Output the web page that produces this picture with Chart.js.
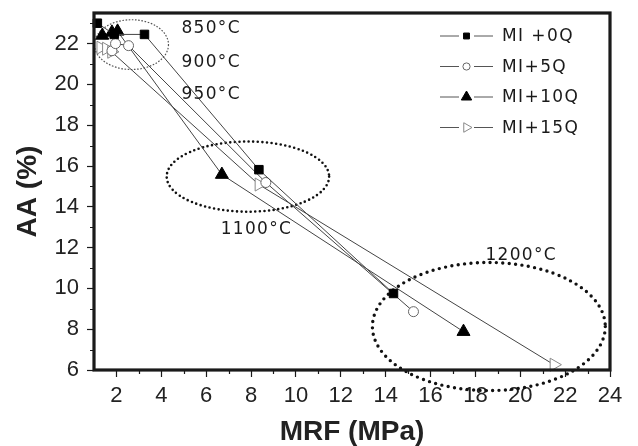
<!DOCTYPE html>
<html>
<head>
<meta charset="utf-8">
<script src="https://cdn.jsdelivr.net/npm/chart.js@4.4.0/dist/chart.umd.min.js"></script>
<style>
  html, body { margin: 0; padding: 0; background: #fff; }
  #wrap { width: 638px; height: 446px; }
</style>
</head>
<body>
<div id="wrap"><canvas id="mrf_chart"></canvas></div>
<script>
// series, points in firing order 850 / 900 / 950 / 1100 / 1200 °C
const seriesNames = ['MI +0Q', 'MI+5Q', 'MI+10Q', 'MI+15Q'];
const mrf0 = [1.15, 1.9, 3.25, 8.35, 14.35];
const aa0 = [23.0, 22.45, 22.45, 15.82, 9.75];
const mrf5 = [1.8, 1.96, 2.54, 8.66, 15.24];
const aa5 = [21.65, 22.0, 21.9, 15.19, 8.86];
const mrf10 = [1.37, 1.8, 2.05, 6.7, 17.47];
const aa10 = [22.4, 22.55, 22.6, 15.58, 7.88];
const mrf15 = [1.3, 1.55, 1.78, 8.35, 21.5];
const aa15 = [21.8, 21.75, 21.6, 15.09, 6.26];

const xTicks = [2, 4, 6, 8, 10, 12, 14, 16, 18, 20, 22, 24];
const yTicks = [6, 8, 10, 12, 14, 16, 18, 20, 22];
const tempLabels = ['850°C', '900°C', '950°C', '1100°C', '1200°C'];

const zip = (xs, ys) => xs.map((x, i) => ({ x: x, y: ys[i] }));

const markers = [
  { pointStyle: 'rect', radius: 6, fill: '#000', stroke: '#000', rotation: 0 },
  { pointStyle: 'circle', radius: 5, fill: '#fff', stroke: '#666', rotation: 0 },
  { pointStyle: 'triangle', radius: 7.5, fill: '#000', stroke: '#000', rotation: 0 },
  { pointStyle: 'triangle', radius: 7.5, fill: '#fff', stroke: '#888', rotation: 90 },
];

const seriesData = [zip(mrf0, aa0), zip(mrf5, aa5), zip(mrf10, aa10), zip(mrf15, aa15)];

const datasets = seriesNames.map((name, i) => ({
  label: name,
  data: seriesData[i],
  showLine: true,
  borderColor: '#444',
  borderWidth: 1,
  pointStyle: markers[i].pointStyle,
  pointRadius: markers[i].radius,
  pointRotation: markers[i].rotation,
  pointBackgroundColor: markers[i].fill,
  pointBorderColor: markers[i].stroke,
  pointBorderWidth: 1,
  clip: false,
}));

// dotted rings round each firing group: centre and half-axes in MPa / %
const rings = [
  { cx: 2.67, cy: 21.95, rx: 1.65, ry: 1.22, width: 1.2, dash: [1.6, 1.6], color: '#555', cap: 'butt' },
  { cx: 7.86, cy: 15.48, rx: 3.62, ry: 1.72, width: 2.6, dash: [0, 4.6], color: '#111', cap: 'round' },
  { cx: 18.6, cy: 8.13, rx: 5.19, ry: 3.14, width: 3.4, dash: [0, 6.4], color: '#111', cap: 'round' },
];
const ringPlugin = {
  id: 'rings',
  beforeDatasetsDraw(chart) {
    const { ctx, scales: { x, y } } = chart;
    rings.forEach(r => {
      const px = x.getPixelForValue(r.cx), py = y.getPixelForValue(r.cy);
      const rx = Math.abs(x.getPixelForValue(r.cx + r.rx) - px);
      const ry = Math.abs(y.getPixelForValue(r.cy + r.ry) - py);
      ctx.save();
      ctx.strokeStyle = r.color;
      ctx.lineWidth = r.width;
      ctx.lineCap = r.cap;
      ctx.setLineDash(r.dash);
      ctx.beginPath();
      ctx.ellipse(px, py, rx, ry, 0, 0, Math.PI * 2);
      ctx.stroke();
      ctx.restore();
    });
  }
};

// temperature captions, anchored at their left end
const tempAnchors = [
  { x: 4.9, y: 22.74 }, { x: 4.9, y: 21.07 }, { x: 4.9, y: 19.5 },
  { x: 6.65, y: 12.88 }, { x: 18.45, y: 11.6 },
];
const tempPlugin = {
  id: 'temps',
  afterDatasetsDraw(chart) {
    const { ctx, scales: { x, y } } = chart;
    ctx.save();
    ctx.font = '17px "DejaVu Sans"';
    ctx.letterSpacing = '1.3px';
    ctx.fillStyle = '#1a1a1a';
    ctx.textBaseline = 'middle';
    ctx.textAlign = 'left';
    tempLabels.forEach((t, i) => {
      ctx.fillText(t, x.getPixelForValue(tempAnchors[i].x), y.getPixelForValue(tempAnchors[i].y));
    });
    ctx.restore();
  }
};

function drawMarker(ctx, m, cx, cy, r) {
  ctx.save();
  ctx.translate(cx, cy);
  ctx.rotate(m.rotation * Math.PI / 180);
  ctx.beginPath();
  if (m.pointStyle === 'rect') {
    ctx.rect(-r * 0.7, -r * 0.7, r * 1.4, r * 1.4);
  } else if (m.pointStyle === 'circle') {
    ctx.arc(0, 0, r, 0, Math.PI * 2);
  } else {
    ctx.moveTo(0, -r);
    ctx.lineTo(r * 0.866, r * 0.5);
    ctx.lineTo(-r * 0.866, r * 0.5);
    ctx.closePath();
  }
  ctx.fillStyle = m.fill;
  ctx.strokeStyle = m.stroke;
  ctx.lineWidth = 1;
  ctx.fill();
  ctx.stroke();
  ctx.restore();
}

// legend in the upper right of the plot: —■— name
const legendPlugin = {
  id: 'boxLegend',
  afterDraw(chart) {
    const { ctx, chartArea } = chart;
    const x0 = chartArea.right - 170, top = chartArea.top + 23, gap = 30.5;
    const sizes = [4.2, 3.6, 6, 5.5];
    ctx.save();
    seriesNames.forEach((name, i) => {
      const yy = top + i * gap;
      ctx.strokeStyle = '#555';
      ctx.lineWidth = 1;
      ctx.beginPath();
      ctx.moveTo(x0, yy); ctx.lineTo(x0 + 19, yy);
      ctx.moveTo(x0 + 34, yy); ctx.lineTo(x0 + 53, yy);
      ctx.stroke();
      drawMarker(ctx, markers[i], x0 + 26.5, yy, sizes[i]);
      ctx.font = '17px "DejaVu Sans"';
      ctx.letterSpacing = '1.4px';
      ctx.fillStyle = '#1a1a1a';
      ctx.textBaseline = 'middle';
      ctx.fillText(name, x0 + 62, yy + 1);
    });
    ctx.restore();
  }
};

// heavy frame round the plot, plus short minor ticks on odd values
const framePlugin = {
  id: 'frame',
  afterDraw(chart) {
    const { ctx, chartArea: a, scales: { x, y } } = chart;
    ctx.save();
    ctx.strokeStyle = '#1a1a1a';
    ctx.lineWidth = 1.2;
    ctx.beginPath();
    for (let v = 3; v <= 23; v += 2) {
      const px = Math.round(x.getPixelForValue(v)) + 0.5;
      ctx.moveTo(px, a.bottom); ctx.lineTo(px, a.bottom + 4);
    }
    for (let v = 7; v <= 23; v += 2) {
      const py = Math.round(y.getPixelForValue(v)) + 0.5;
      ctx.moveTo(a.left, py); ctx.lineTo(a.left - 4, py);
    }
    ctx.stroke();
    ctx.lineWidth = 3.2;
    ctx.strokeRect(a.left, a.top, a.right - a.left, a.bottom - a.top);
    ctx.restore();
  }
};

const tickFont = { family: '"Liberation Sans", Arial, sans-serif', size: 22 };
const titleFont = { family: '"Liberation Sans", Arial, sans-serif', size: 28, weight: 'bold' };

new Chart(document.getElementById('mrf_chart'), {
  type: 'scatter',
  data: { datasets: datasets },
  options: {
    responsive: true,
    maintainAspectRatio: false,
    animation: false,
    layout: { padding: { top: 13, right: 28, left: 0, bottom: 0 } },
    plugins: {
      legend: { display: false },
      tooltip: { enabled: false },
    },
    scales: {
      x: {
        type: 'linear',
        min: 1,
        max: 24,
        afterBuildTicks: s => { s.ticks = xTicks.map(v => ({ value: v })); },
        afterFit: s => { s.height = 76; s.paddingLeft = 0; s.paddingRight = 0; },
        grid: { drawOnChartArea: false, drawTicks: true, tickLength: 7, tickColor: '#1a1a1a', tickWidth: 1.2 },
        border: { display: false },
        ticks: { font: tickFont, color: '#222', padding: 6, maxRotation: 0, autoSkip: false },
        title: { display: true, text: 'MRF (MPa)', font: titleFont, color: '#222', padding: { top: 0, bottom: -3 } },
      },
      y: {
        type: 'linear',
        min: 6,
        max: 23.5,
        afterBuildTicks: s => { s.ticks = yTicks.map(v => ({ value: v })); },
        afterFit: s => { s.width = 94; s.paddingTop = 0; s.paddingBottom = 0; },
        grid: { drawOnChartArea: false, drawTicks: true, tickLength: 7, tickColor: '#1a1a1a', tickWidth: 1.2 },
        border: { display: false },
        ticks: { font: tickFont, color: '#222', padding: 8, autoSkip: false },
        title: { display: true, text: 'AA (%)', font: titleFont, color: '#222', padding: { top: 11, bottom: 0 } },
      },
    },
  },
  plugins: [ringPlugin, tempPlugin, legendPlugin, framePlugin],
});
</script>
</body>
</html>
